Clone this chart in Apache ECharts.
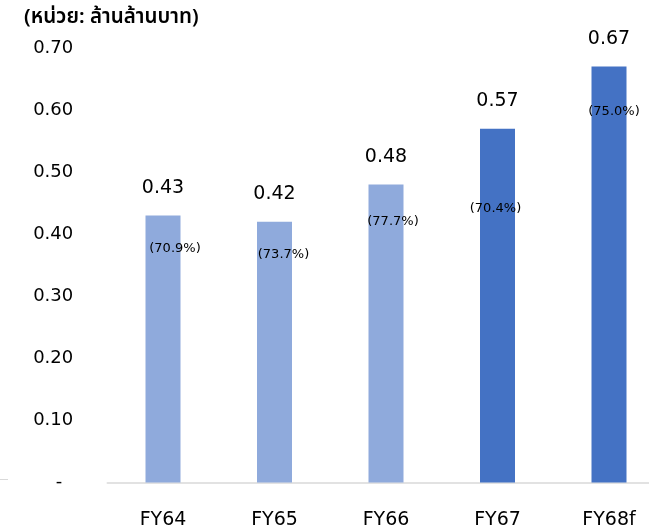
<!DOCTYPE html>
<html>
<head>
<meta charset="utf-8">
<script src="https://cdn.jsdelivr.net/npm/echarts@6/dist/echarts.min.js"></script>
<style>
  html, body { margin: 0; padding: 0; background: #fff; }
  #chart { width: 649px; height: 529px; }
</style>
</head>
<body>
<div id="chart"></div>
<script>
// Fiscal years and values (trillion baht), with share labels
const categories = ['FY64', 'FY65', 'FY66', 'FY67', 'FY68f'];
const values = [0.43, 0.42, 0.48, 0.57, 0.67];
const shares = ['70.9%', '73.7%', '77.7%', '70.4%', '75.0%'];
const unitTitle = '(หน่วย: ล้านล้านบาท)';
const yTicks = [0, 0.1, 0.2, 0.3, 0.4, 0.5, 0.6, 0.7];

// Presentation settings
const actualColor = '#8FAADC';
const forecastColor = '#4472C4';
const colorOf = [actualColor, actualColor, actualColor, forecastColor, forecastColor];
// where each share label sits relative to the top-centre of its bar
const shareOffsets = [[12, 33], [9, 33], [7, 37], [-2, 80], [5, 45]];

const FONT = "'DejaVu Sans', 'Noto Sans', sans-serif";
const THAI_FONT = "'Noto Sans', 'Noto Sans Thai', sans-serif";

const chart = echarts.init(document.getElementById('chart'), null, { renderer: 'canvas' });

chart.setOption({
  animation: false,
  backgroundColor: '#ffffff',
  textStyle: { fontFamily: FONT },
  graphic: [
    {
      type: 'text',
      left: 24,
      top: 7,
      style: { text: unitTitle, font: "600 20.5px " + THAI_FONT, fill: '#000' }
    },
    {
      type: 'line',
      shape: { x1: 0, y1: 479.5, x2: 8, y2: 479.5 },
      style: { stroke: '#d9d9d9', lineWidth: 1 }
    }
  ],
  // plot area runs past the right edge of the canvas
  grid: {
    left: 107.25, width: 557.5, top: 48, bottom: 46.5,
    containLabel: false, outerBoundsMode: 'none'
  },
  xAxis: {
    type: 'category',
    data: categories,
    axisLine: { show: true, lineStyle: { color: '#d9d9d9', width: 1.5 } },
    axisTick: { show: false },
    axisLabel: { color: '#000', fontSize: 19, fontFamily: FONT, margin: 28 }
  },
  yAxis: {
    type: 'value',
    min: 0,
    max: 0.7,
    interval: 0.1,
    splitLine: { show: false },
    axisLine: { show: false },
    axisTick: { show: false },
    axisLabel: {
      color: '#000',
      fontSize: 18,
      fontFamily: FONT,
      margin: 34,
      formatter: function (v) {
        const t = yTicks.find(x => Math.abs(x - v) < 1e-9);
        if (t === 0) return '{dash|-}';
        return (t !== undefined ? t : v).toFixed(2);
      },
      rich: { dash: { fontSize: 18, fontFamily: FONT, padding: [0, 11, 0, 0], color: '#000' } }
    }
  },
  series: [
    {
      type: 'bar',
      barWidth: 35,
      data: values.map((v, i) => ({ value: v, itemStyle: { color: colorOf[i] } })),
      label: {
        show: true,
        position: 'top',
        distance: 18,
        color: '#000',
        fontSize: 19,
        fontFamily: FONT,
        formatter: p => p.value.toFixed(2)
      },
      z: 2
    },
    {
      type: 'bar',
      barWidth: 35,
      barGap: '-100%',
      silent: true,
      itemStyle: { color: 'rgba(0,0,0,0)' },
      data: values.map((v, i) => ({
        value: v,
        label: {
          show: true,
          position: 'insideTop',
          distance: 0,
          align: 'center',
          verticalAlign: 'middle',
          offset: shareOffsets[i],
          formatter: '(' + shares[i] + ')'
        }
      })),
      label: { color: '#000', fontSize: 13, fontFamily: FONT },
      z: 3
    }
  ]
});
</script>
</body>
</html>
